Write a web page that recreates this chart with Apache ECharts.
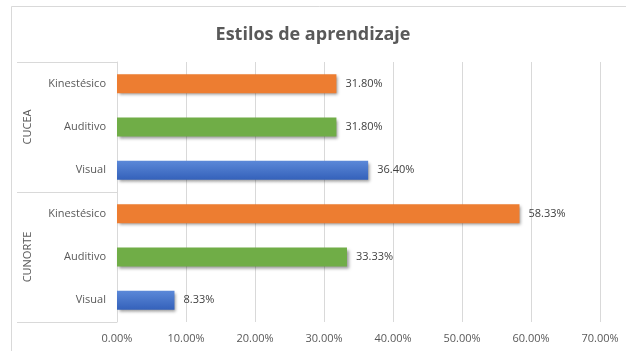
<!DOCTYPE html>
<html>
<head>
<meta charset="utf-8">
<script src="https://cdn.jsdelivr.net/npm/echarts@6/dist/echarts.min.js"></script>
<style>
  html, body { margin: 0; padding: 0; background: #ffffff; }
  #chart { width: 626px; height: 351px; }
</style>
</head>
<body>
<div id="chart"></div>
<script>
// Learning styles by campus (percent of students)
const groups = ['CUCEA', 'CUNORTE'];
const styles = ['Kinestésico', 'Auditivo', 'Visual'];
const cuceaValues = [31.80, 31.80, 36.40];
const cunorteValues = [58.33, 33.33, 8.33];
const xMax = 70;
const xStep = 10;

// Fill colours per learning style
const styleColors = {
  'Kinestésico': '#ED7D31',
  'Auditivo': '#70AD47',
  'Visual': new echarts.graphic.LinearGradient(0, 0, 0, 1, [
    { offset: 0, color: '#5B88D8' },
    { offset: 1, color: '#3461BA' }
  ])
};

const groupValues = [cuceaValues, cunorteValues];
const categories = [];
const barData = [];
groups.forEach(function (g, gi) {
  styles.forEach(function (s, si) {
    categories.push(s);
    barData.push({
      value: groupValues[gi][si],
      itemStyle: { color: styleColors[s] }
    });
  });
});

const font = '"Open Sans", "DejaVu Sans", sans-serif';
const chart = echarts.init(document.getElementById('chart'), null, { renderer: 'canvas' });

chart.setOption({
  animation: false,
  backgroundColor: '#ffffff',
  title: {
    text: 'Estilos de aprendizaje',
    left: 'center',
    top: 21,
    textStyle: { fontFamily: font, fontSize: 18, fontWeight: 'bold', color: '#595959' }
  },
  graphic: [{
    type: 'rect',
    silent: true,
    z: -1,
    shape: { x: 11.5, y: 6.5, width: 700, height: 400 },
    style: { fill: 'none', stroke: '#D9D9D9', lineWidth: 1 }
  }],
  grid: { left: 117, right: 26, top: 62, bottom: 29, containLabel: false },
  xAxis: {
    type: 'value',
    min: 0,
    max: xMax,
    interval: xStep,
    axisLine: { show: false },
    axisTick: { show: false },
    splitLine: { show: true, lineStyle: { color: '#D9D9D9', width: 1 } },
    axisLabel: {
      margin: 11,
      fontFamily: font,
      fontSize: 11,
      color: '#595959',
      formatter: function (v) { return v.toFixed(2) + '%'; }
    }
  },
  yAxis: [{
    type: 'category',
    data: categories,
    inverse: true,
    axisLine: { show: true, lineStyle: { color: '#D9D9D9' } },
    axisTick: { show: false },
    axisLabel: { margin: 11, fontFamily: font, fontSize: 11, color: '#595959' }
  }, {
    type: 'category',
    data: groups,
    inverse: true,
    position: 'left',
    offset: 100,
    axisLine: { show: false },
    axisTick: { show: true, inside: true, length: 100, lineStyle: { color: '#D9D9D9' } },
    axisLabel: { inside: true, rotate: 90, margin: 5, fontFamily: font, fontSize: 11, color: '#595959' }
  }],
  series: [{
    type: 'bar',
    yAxisIndex: 0,
    data: barData,
    barWidth: 19,
    itemStyle: {
      shadowBlur: 3,
      shadowColor: 'rgba(0,0,0,0.4)',
      shadowOffsetX: 2,
      shadowOffsetY: 2
    },
    label: {
      show: true,
      position: 'right',
      distance: 9,
      fontFamily: font,
      fontSize: 11,
      color: '#404040',
      formatter: function (p) { return p.value.toFixed(2) + '%'; }
    }
  }]
});
</script>
</body>
</html>
